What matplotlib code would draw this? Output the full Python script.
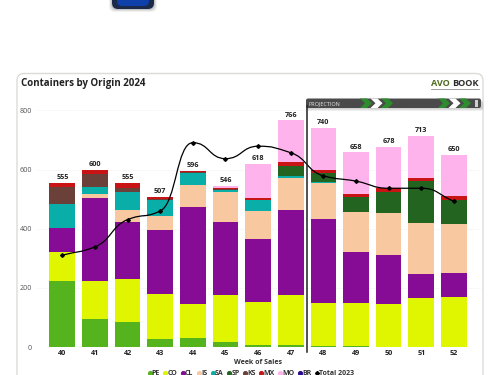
import numpy as np
import matplotlib
matplotlib.use("Agg")
import matplotlib.pyplot as plt
from matplotlib.patches import FancyBboxPatch, Polygon, PathPatch, Rectangle
from matplotlib.path import Path
from matplotlib.lines import Line2D

plt.rcParams['font.family'] = ['Open Sans', 'DejaVu Sans']

weeks = ['40', '41', '42', '43', '44', '45', '46', '47', '48', '49', '50', '51', '52']
totals = [555, 600, 555, 507, 596, 546, 618, 766, 740, 658, 678, 713, 650]
PE = [222, 96, 85, 29, 32, 18, 7, 7, 3, 5, 0, 0, 0]
CO = [98, 128, 144, 151, 115, 159, 145, 168, 146, 143, 147, 166, 168]
CL = [84, 279, 194, 216, 328, 245, 215, 288, 284, 172, 163, 81, 82]
IS = [0, 14, 40, 47, 72, 103, 93, 108, 121, 136, 144, 171, 165]
SA = [80, 24, 60, 54, 41, 6, 37, 7, 5, 0, 0, 0, 0]
SP = [0, 0, 0, 0, 0, 0, 0, 34, 28, 50, 70, 142, 83]
KS = [56, 45, 16, 3, 4, 2, 0, 0, 0, 0, 0, 0, 0]
MX = [15, 14, 16, 7, 2, 6, 8, 13, 11, 11, 13, 11, 12]
MO = [0, 0, 0, 0, 2, 7, 113, 141, 142, 141, 141, 142, 140]
BR = [0, 0, 0, 0, 0, 0, 0, 0, 0, 0, 0, 0, 0]
total_2023 = [311, 339, 431, 460, 691, 637, 679, 657, 579, 561, 537, 537, 493]

series_names = ['PE', 'CO', 'CL', 'IS', 'SA', 'SP', 'KS', 'MX', 'MO', 'BR']
series_values = [PE, CO, CL, IS, SA, SP, KS, MX, MO, BR]
series_colors = ['#55B41E', '#E0F500', '#860C96', '#F8C9A0', '#0AAEA8',
                 '#236420', '#6B4038', '#C81414', '#FFB3EC', '#2A0A8C']

fig = plt.figure(figsize=(5, 3.75), dpi=100, facecolor='white')

# background overlay in pixel coordinates
bg = fig.add_axes([0, 0, 1, 1], zorder=0)
bg.set_xlim(0, 500); bg.set_ylim(375, 0); bg.axis('off')
for off, a in [(3, .10), (2, .15), (1, .25)]:
    bg.add_patch(FancyBboxPatch((112 - off, -8), 42 + 2 * off, 17 + off,
                                boxstyle='round,pad=0,rounding_size=6',
                                fc='#777777', ec='none', alpha=a))
bg.add_patch(FancyBboxPatch((112, -8), 42, 17, boxstyle='round,pad=0,rounding_size=6',
                            fc='#1B2A4A', ec='none'))
bg.add_patch(FancyBboxPatch((117, -8), 32, 14, boxstyle='round,pad=0,rounding_size=5',
                            fc='#0F3FA8', ec='none'))
bg.add_patch(FancyBboxPatch((17, 73.5), 466, 320, boxstyle='round,pad=0,rounding_size=7',
                            fc='white', ec='#D9DDD6', lw=1))
bg.text(21, 83.5, 'Containers by Origin 2024', fontsize=7.0, fontweight='bold',
        color='#222222', va='center', ha='left')

# main axes
L, R, T, B = 36, 481, 110.4, 347.2
ax = fig.add_axes([L / 500, 1 - B / 375, (R - L) / 500, (B - T) / 375], zorder=1)
ax.patch.set_alpha(0)
x = np.arange(len(weeks))
bottom = np.zeros(len(weeks))
for name, vals, col in zip(series_names, series_values, series_colors):
    ax.bar(x, vals, width=0.787, bottom=bottom, color=col, label=name, zorder=2)
    bottom += np.array(vals)
for xi, t in zip(x, totals):
    ax.text(xi, t + 6, str(t), ha='center', va='bottom', fontsize=5.2,
            fontweight='bold', color='#222222', zorder=5)

# smoothed 2023 line through the data points (monotone tangents)
yl = np.array(total_2023, float)
d = np.diff(yl)
m = np.zeros_like(yl)
for i in range(1, len(yl) - 1):
    m[i] = 0 if d[i - 1] * d[i] <= 0 else 2 * d[i - 1] * d[i] / (d[i - 1] + d[i])
m[0], m[-1] = d[0], d[-1]
verts = [(x[0], yl[0])]
codes = [Path.MOVETO]
for i in range(len(yl) - 1):
    verts += [(x[i] + .5, yl[i] + m[i] * .5), (x[i + 1] - .5, yl[i + 1] - m[i + 1] * .5), (x[i + 1], yl[i + 1])]
    codes += [Path.CURVE4] * 3
ax.add_patch(PathPatch(Path(verts, codes), fc='none', ec='black', lw=0.9, zorder=4))
ax.plot(x, total_2023, ls='none', marker='D', ms=1.9, color='black', zorder=5)

ax.set_xlim(-0.806, 12.83)
ax.set_ylim(0, 800)
ax.set_yticks([0, 200, 400, 600, 800])
ax.set_xticks(x, weeks)
ax.grid(axis='y', ls=(0, (1, 2)), lw=0.4, color='#DDDDDD', zorder=0)
ax.set_axisbelow(True)
for s in ax.spines.values():
    s.set_visible(False)
ax.tick_params(axis='both', length=0)
ax.tick_params(axis='y', labelsize=5.2, labelcolor='#555555', pad=3)
ax.tick_params(axis='x', labelsize=5.2, labelcolor='#222222', pad=2)
for lab in ax.get_xticklabels():
    lab.set_fontweight('bold')
ax.set_xlabel('Week of Sales', fontsize=5.0, fontweight='bold', color='#333333', labelpad=1.5)

handles = [Line2D([], [], ls='none', marker='o', ms=2.7, color=c, label=n)
           for n, c in zip(series_names, series_colors)]
handles.append(Line2D([], [], ls='none', marker='D', ms=2.0, color='black', label='Total 2023'))
leg = fig.legend(handles=handles, loc='center', bbox_to_anchor=(250 / 500, 1 - 373.5 / 375),
                 ncol=len(handles), frameon=False, fontsize=5.0, handletextpad=-0.2,
                 columnspacing=0.3, borderpad=0, handlelength=1.0)
for t in leg.get_texts():
    t.set_fontweight('bold'); t.set_color('#333333')

# foreground overlay: projection banner and logo
fg = fig.add_axes([0, 0, 1, 1], zorder=3)
fg.set_xlim(0, 500); fg.set_ylim(375, 0); fg.axis('off'); fg.patch.set_alpha(0)
fg.plot([307, 307], [106, 352], color='#222222', lw=1.1)
for off, a in [(2.5, .12), (1.5, .2)]:
    fg.add_patch(FancyBboxPatch((306, 99 + off), 175 + off, 9, boxstyle='round,pad=0,rounding_size=2',
                                fc='#666666', ec='none', alpha=a))
fg.add_patch(FancyBboxPatch((306, 98.5), 175, 9.5, boxstyle='round,pad=0,rounding_size=2',
                            fc='#4A4A4A', ec='none'))
fg.text(308.5, 103.3, 'PROJECTION', fontsize=4.0, color='#E6E6E6', va='center', ha='left')


def chevron(px, col):
    fg.add_patch(Polygon([(px, 98.5), (px + 7, 98.5), (px + 12, 103.2), (px + 7, 108),
                          (px, 108), (px + 5, 103.2)], closed=True, fc=col, ec='none'))


for px, col in [(360, '#2E8B2E'), (370.5, 'white'), (381, '#2E8B2E'),
                (438, '#2E8B2E'), (448.5, 'white'), (459, '#2E8B2E')]:
    chevron(px, col)
fg.add_patch(Rectangle((475, 99.5), 3, 7, fc='#CFCFCF', ec='none'))

t1 = fg.text(431, 84, 'AVO', fontsize=6.6, fontweight='bold', color='#4F6B1E', va='center', ha='left')
fg.text(452, 84, 'BOOK', fontsize=6.6, fontweight='bold', color='#2B2B2B', va='center', ha='left')
fg.plot([431, 479], [88.6, 88.6], color='#777777', lw=0.5)

fig.savefig('out.png', dpi=100)
